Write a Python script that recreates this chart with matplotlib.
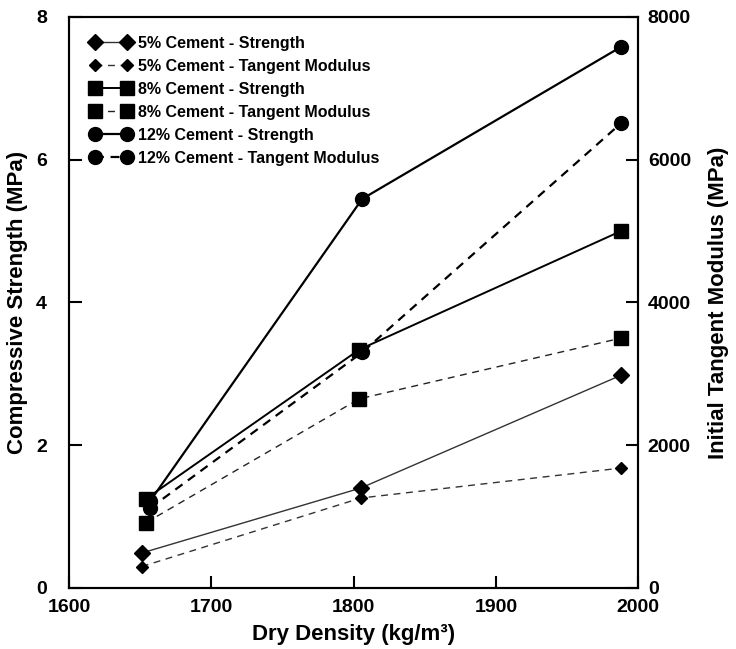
import matplotlib
matplotlib.use("Agg")
import matplotlib.pyplot as plt

plt.rcParams["font.family"] = ["Liberation Sans", "DejaVu Sans"]
plt.rcParams["font.weight"] = "bold"

# dry density (kg/m3) per cement content
dens_5 = [1651, 1805, 1988]
dens_8 = [1654, 1804, 1988]
dens_12 = [1657, 1806, 1988]

# compressive strength (MPa)
strength_5 = [0.49, 1.40, 2.98]
strength_8 = [1.25, 3.34, 5.00]
strength_12 = [1.22, 5.45, 7.58]

# initial tangent modulus (MPa)
modulus_5 = [300, 1260, 1680]
modulus_8 = [915, 2650, 3500]
modulus_12 = [1120, 3300, 6510]

x_ticks = [1600, 1700, 1800, 1900, 2000]
left_ticks = [0, 2, 4, 6, 8]
right_ticks = [0, 2000, 4000, 6000, 8000]

fig = plt.figure(figsize=(7.36, 6.49), dpi=100)
ax = fig.add_axes([0.094, 0.094, 0.773, 0.880])
ax2 = ax.twinx()

dash = (0, (5, 4))
h1, = ax.plot(dens_5, strength_5, color="#333333", lw=1.0, marker="D", ms=8.5,
              mfc="black", mec="black", label="5% Cement - Strength")
h2, = ax2.plot(dens_5, modulus_5, color="#333333", lw=1.0, ls=dash, marker="D", ms=6.5,
               mfc="black", mec="black", label="5% Cement - Tangent Modulus")
h3, = ax.plot(dens_8, strength_8, color="black", lw=1.4, marker="s", ms=9.5,
              mfc="black", mec="black", label="8% Cement - Strength")
h4, = ax2.plot(dens_8, modulus_8, color="#222222", lw=1.0, ls=dash, marker="s", ms=9.5,
               mfc="black", mec="black", label="8% Cement - Tangent Modulus")
h5, = ax.plot(dens_12, strength_12, color="black", lw=1.6, marker="o", ms=10,
              mfc="black", mec="black", label="12% Cement - Strength")
h6, = ax2.plot(dens_12, modulus_12, color="black", lw=1.6, ls=(0, (4, 3)), marker="o", ms=10,
               mfc="black", mec="black", label="12% Cement - Tangent Modulus")

ax.set_xlim(1600, 2000)
ax.set_ylim(0, 8)
ax2.set_ylim(0, 8000)
ax.set_xticks(x_ticks)
ax.set_yticks(left_ticks)
ax2.set_yticks(right_ticks)

for a in (ax, ax2):
    for s in a.spines.values():
        s.set_linewidth(1.5)
    a.tick_params(direction="in", length=9, width=1.5, labelsize=14)
ax.tick_params(axis="x", pad=8)
ax.tick_params(axis="y", pad=16)
ax2.tick_params(axis="y", pad=7)

ax.set_xlabel("Dry Density (kg/m³)", fontsize=16, fontweight="bold", labelpad=6)
ax.set_ylabel("Compressive Strength (MPa)", fontsize=16, fontweight="bold", labelpad=6)
ax2.set_ylabel("Initial Tangent Modulus (MPa)", fontsize=16, fontweight="bold", labelpad=12)

ax2.legend(handles=[h1, h2, h3, h4, h5, h6], loc="upper left", bbox_to_anchor=(0.02, 0.984),
           frameon=False, numpoints=2, handlelength=2.6, handletextpad=0.4,
           labelspacing=0.5, borderaxespad=0.2, prop={"size": 11.5, "weight": "bold"})

fig.savefig("out.png", dpi=100)
